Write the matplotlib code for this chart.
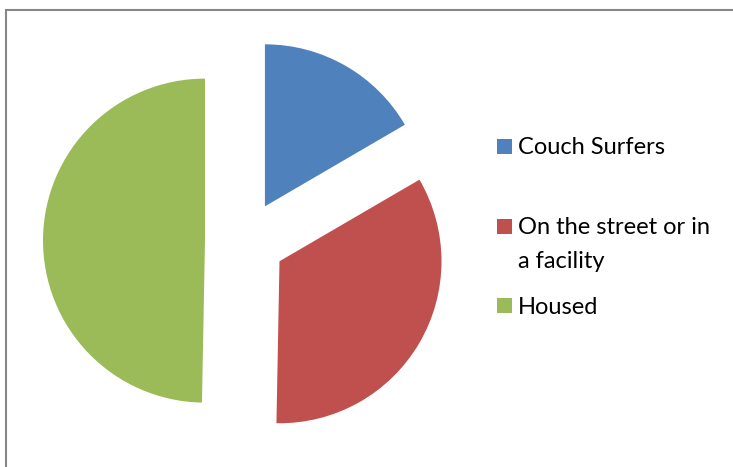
import matplotlib.pyplot as plt
from matplotlib.patches import Rectangle

labels = ["Couch Surfers", "On the street or in\na facility", "Housed"]
values = [16.6, 33.7, 49.7]
colors = ["#4F81BD", "#C0504D", "#9BBB59"]

W, H = 733, 467
fig = plt.figure(figsize=(W / 100, H / 100), dpi=100)
ax = fig.add_axes([0, 0, 1, 1])

R = 162
# explode is applied in data units by matplotlib
ax.pie(values, colors=colors, startangle=90, counterclock=False,
       center=(245, H - 241), radius=R, explode=[40] * 3,
       wedgeprops=dict(linewidth=0), frame=True)
ax.set_xlim(0, W)
ax.set_ylim(0, H)
ax.set_aspect('equal')
ax.axis('off')

# chart frame (only top and left visible, rest runs off the image)
ax.add_patch(Rectangle((5.5, -20), W + 40, H - 9.5 + 20, fill=False,
                       edgecolor='#878787', linewidth=1.5))

# legend drawn by hand, Excel-style spacing
first_line_y = [146, 226, 305]
line_gap = 33
for lab, col, y in zip(labels, colors, first_line_y):
    ax.add_patch(Rectangle((496.5, H - y - 7.5), 15, 15, color=col, linewidth=0))
    for i, part in enumerate(lab.split("\n")):
        ax.text(518, H - (y + i * line_gap), part, fontsize=17, family='Lato',
                va='center_baseline', ha='left', color='black')

fig.savefig("out.png", dpi=100)
